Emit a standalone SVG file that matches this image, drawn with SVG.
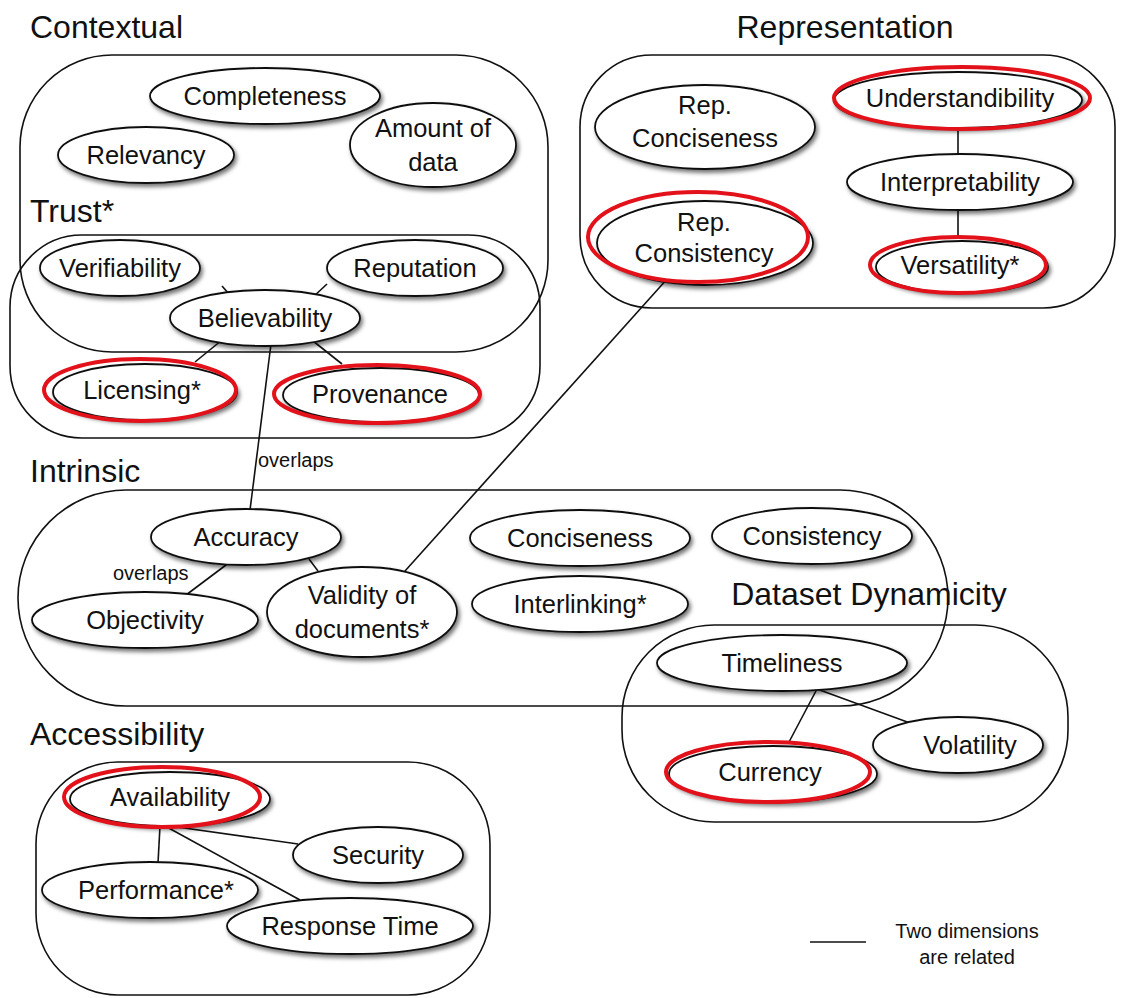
<svg xmlns="http://www.w3.org/2000/svg" width="1126" height="998" viewBox="0 0 1126 998">
<defs>
<filter id="sh" x="-20%" y="-30%" width="140%" height="170%">
<feDropShadow dx="2" dy="3" stdDeviation="2" flood-color="#000" flood-opacity="0.55"/>
</filter>
<filter id="bsh" x="-5%" y="-5%" width="110%" height="115%">
<feDropShadow dx="1" dy="3" stdDeviation="2.5" flood-color="#000" flood-opacity="0.25"/>
</filter>
<style>
.box{fill:none;stroke:#111;stroke-width:1.6}
.el{fill:#fff;stroke:#111;stroke-width:1.8;filter:url(#sh)}
.red{fill:none;stroke:#e3111a;stroke-width:4}
.t{font-family:"Liberation Sans",Arial,sans-serif;font-size:25.5px;fill:#111;text-anchor:middle}
.title{font-family:"Liberation Sans",Arial,sans-serif;font-size:32px;fill:#111}
.sm{font-family:"Liberation Sans",Arial,sans-serif;font-size:20px;fill:#111}
.ln{stroke:#111;stroke-width:1.6;fill:none}
</style>
</defs>
<rect width="1126" height="998" fill="#fff"/>

<!-- group boxes -->
<g id="groups">
<text class="title" x="30" y="38">Contextual</text>
<rect class="box" x="20" y="55" width="528" height="297" rx="92" ry="92"/>
<text class="title" x="30" y="222">Trust*</text>
<rect class="box" x="10" y="235" width="530" height="203" rx="72" ry="72"/>
<text class="title" x="845" y="38" text-anchor="middle">Representation</text>
<rect class="box" x="580" y="55" width="535" height="253" rx="72" ry="72"/>
<text class="title" x="30" y="482">Intrinsic</text>
<rect class="box" x="18" y="490" width="930" height="216" rx="108" ry="108"/>
<text class="title" x="869" y="605" text-anchor="middle">Dataset Dynamicity</text>
<rect class="box" x="622" y="625" width="446" height="197" rx="92" ry="92"/>
<text class="title" x="30" y="745">Accessibility</text>
<rect class="box" x="36" y="762" width="454" height="233" rx="82" ry="82"/>
</g>

<!-- connectors -->
<g id="connectors">
<line class="ln" x1="222" y1="286" x2="243" y2="310"/>
<line class="ln" x1="327" y1="284" x2="298" y2="311"/>
<line class="ln" x1="222" y1="340" x2="195" y2="362"/>
<line class="ln" x1="308" y1="337" x2="342" y2="364"/>
<line class="ln" x1="271" y1="344" x2="250" y2="510"/>
<line class="ln" x1="958" y1="129" x2="958" y2="154"/>
<line class="ln" x1="958" y1="210" x2="958" y2="238"/>
<line class="ln" x1="668" y1="278" x2="405" y2="571"/>
<line class="ln" x1="230" y1="562" x2="186" y2="595"/>
<line class="ln" x1="309" y1="559" x2="318" y2="571"/>
<line class="ln" x1="817" y1="689" x2="789" y2="742"/>
<line class="ln" x1="817" y1="689" x2="910" y2="723"/>
<line class="ln" x1="160" y1="826" x2="158" y2="863"/>
<line class="ln" x1="165" y1="826" x2="300" y2="900"/>
<line class="ln" x1="170" y1="826" x2="298" y2="844"/>
<text class="sm" x="258" y="467">overlaps</text>
<text class="sm" x="113" y="580">overlaps</text>
</g>

<!-- nodes -->
<g id="completeness"><ellipse class="el" cx="265" cy="96" rx="115" ry="28"/><text class="t" x="265" y="105">Completeness</text></g>
<g id="relevancy"><ellipse class="el" cx="146" cy="155" rx="88" ry="28"/><text class="t" x="146" y="164">Relevancy</text></g>
<g id="amount"><ellipse class="el" cx="433" cy="145" rx="83" ry="42"/><text class="t" x="433" y="137">Amount of</text><text class="t" x="433" y="171">data</text></g>
<g id="verifiability"><ellipse class="el" cx="120" cy="268" rx="80" ry="28"/><text class="t" x="120" y="277">Verifiability</text></g>
<g id="reputation"><ellipse class="el" cx="415" cy="268" rx="88" ry="28"/><text class="t" x="415" y="277">Reputation</text></g>
<g id="believability"><ellipse class="el" cx="265" cy="318" rx="95" ry="28"/><text class="t" x="265" y="327">Believability</text></g>
<g id="licensing"><ellipse class="el" cx="145" cy="392" rx="92" ry="28"/><ellipse class="red" cx="140" cy="390" rx="96" ry="31"/><text class="t" x="142" y="399">Licensing*</text></g>
<g id="provenance"><ellipse class="el" cx="381" cy="395" rx="98" ry="27"/><ellipse class="red" cx="377" cy="394" rx="103" ry="29"/><text class="t" x="380" y="403">Provenance</text></g>

<g id="rep-conciseness"><ellipse class="el" cx="705" cy="127" rx="110" ry="42"/><text class="t" x="705" y="114">Rep.</text><text class="t" x="705" y="147">Conciseness</text></g>
<g id="understandibility"><ellipse class="el" cx="958" cy="100" rx="124" ry="28"/><ellipse class="red" cx="962" cy="98" rx="128" ry="31"/><text class="t" x="960" y="107">Understandibility</text></g>
<g id="interpretability"><ellipse class="el" cx="960" cy="182" rx="113" ry="28"/><text class="t" x="960" y="191">Interpretability</text></g>
<g id="versatility"><ellipse class="el" cx="962" cy="267" rx="86" ry="26"/><ellipse class="red" cx="958" cy="265" rx="88" ry="28"/><text class="t" x="960" y="274">Versatility*</text></g>
<g id="rep-consistency"><ellipse class="el" cx="705" cy="243" rx="108" ry="42"/><ellipse class="red" cx="698" cy="237" rx="110" ry="45"/><text class="t" x="704" y="231">Rep.</text><text class="t" x="704" y="262">Consistency</text></g>

<g id="accuracy"><ellipse class="el" cx="246" cy="537" rx="95" ry="28"/><text class="t" x="246" y="546">Accuracy</text></g>
<g id="objectivity"><ellipse class="el" cx="145" cy="620" rx="113" ry="28"/><text class="t" x="145" y="629">Objectivity</text></g>
<g id="validity"><ellipse class="el" cx="362" cy="612" rx="95" ry="45"/><text class="t" x="362" y="604">Validity of</text><text class="t" x="362" y="638">documents*</text></g>
<g id="conciseness"><ellipse class="el" cx="580" cy="538" rx="110" ry="28"/><text class="t" x="580" y="547">Conciseness</text></g>
<g id="consistency"><ellipse class="el" cx="812" cy="536" rx="100" ry="28"/><text class="t" x="812" y="545">Consistency</text></g>
<g id="interlinking"><ellipse class="el" cx="580" cy="604" rx="108" ry="28"/><text class="t" x="580" y="613">Interlinking*</text></g>

<g id="timeliness"><ellipse class="el" cx="782" cy="663" rx="125" ry="28"/><text class="t" x="782" y="672">Timeliness</text></g>
<g id="volatility"><ellipse class="el" cx="958" cy="745" rx="85" ry="28"/><text class="t" x="970" y="754">Volatility</text></g>
<g id="currency"><ellipse class="el" cx="773" cy="774" rx="104" ry="28"/><ellipse class="red" cx="768" cy="772" rx="102" ry="30"/><text class="t" x="770" y="781">Currency</text></g>

<g id="availability"><ellipse class="el" cx="170" cy="799" rx="100" ry="27"/><ellipse class="red" cx="162" cy="797" rx="98" ry="30"/><text class="t" x="170" y="806">Availability</text></g>
<g id="security"><ellipse class="el" cx="378" cy="855" rx="85" ry="28"/><text class="t" x="378" y="864">Security</text></g>
<g id="performance"><ellipse class="el" cx="150" cy="890" rx="108" ry="28"/><text class="t" x="156" y="899">Performance*</text></g>
<g id="response-time"><ellipse class="el" cx="350" cy="926" rx="123" ry="28"/><text class="t" x="350" y="935">Response Time</text></g>

<g id="legend">
<line class="ln" x1="810" y1="942" x2="866" y2="942"/>
<text class="sm" x="967" y="938" text-anchor="middle">Two dimensions</text>
<text class="sm" x="967" y="964" text-anchor="middle">are related</text>
</g>
</svg>
